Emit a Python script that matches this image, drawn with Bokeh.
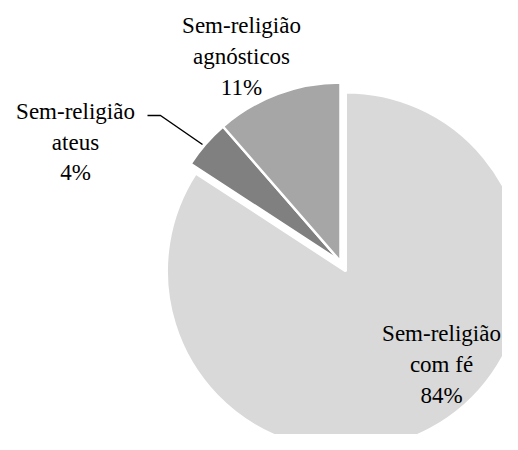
import math
from bokeh.plotting import figure
from bokeh.models import Range1d, ColumnDataSource
from bokeh.core.properties import value
from bokeh.embed import file_html
from bokeh.resources import INLINE

# Data
categories = ["com fé", "ateus", "agnósticos"]
prefix = "Sem-religião"
values = [84.2, 4.4, 11.4]
colors = ["#d9d9d9", "#808080", "#a6a6a6"]
explode = [11, 0, 0]

FW, FH = 502, 434
p = figure(width=FW, height=FH, output_backend="svg", toolbar_location=None,
           x_range=Range1d(0, FW), y_range=Range1d(0, FH), min_border=0)
p.axis.visible = False
p.grid.visible = False
p.outline_line_color = None
p.background_fill_color = "white"
p.border_fill_color = "white"

def Y(y):
    return FH - y

cx, cy, r = 340.0, Y(261), 179.0
total = sum(values)
cum = 0.0
xs, ys, sa, ea = [], [], [], []
for v, d in zip(values, explode):
    f0 = cum / total
    f1 = (cum + v) / total
    cum += v
    a0 = math.pi / 2 - f0 * 2 * math.pi
    a1 = math.pi / 2 - f1 * 2 * math.pi
    mid = (a0 + a1) / 2
    xs.append(cx + d * math.cos(mid))
    ys.append(cy + d * math.sin(mid))
    sa.append(a0)
    ea.append(a1)

src = ColumnDataSource(dict(x=xs, y=ys, sa=sa, ea=ea, c=colors))
p.wedge(x="x", y="y", radius=r, start_angle="sa", end_angle="ea", direction="clock",
        fill_color="c", line_color="white", line_width=2.5, source=src)

# Labels
label_pos = [(441, [333, 364, 395]), (75, [111, 142, 172]), (241, [25, 56, 87])]
tx, ty, tt = [], [], []
for cat, v, (lx, bys) in zip(categories, values, label_pos):
    lines = [prefix, cat, f"{round(v / total * 100)}%"]
    for line, by in zip(lines, bys):
        tx.append(lx)
        ty.append(Y(by))
        tt.append(line)
p.text(x=tx, y=ty, text=tt, text_font=value("Liberation Serif"), text_font_size="23px",
       text_align="center", text_baseline="alphabetic", text_color="#000000")

# Leader line for ateus
p.line(x=[147, 160, 202], y=[Y(115), Y(115), Y(144)], line_color="black", line_width=1.5)

open("out.html", "w").write(file_html(p, INLINE))
